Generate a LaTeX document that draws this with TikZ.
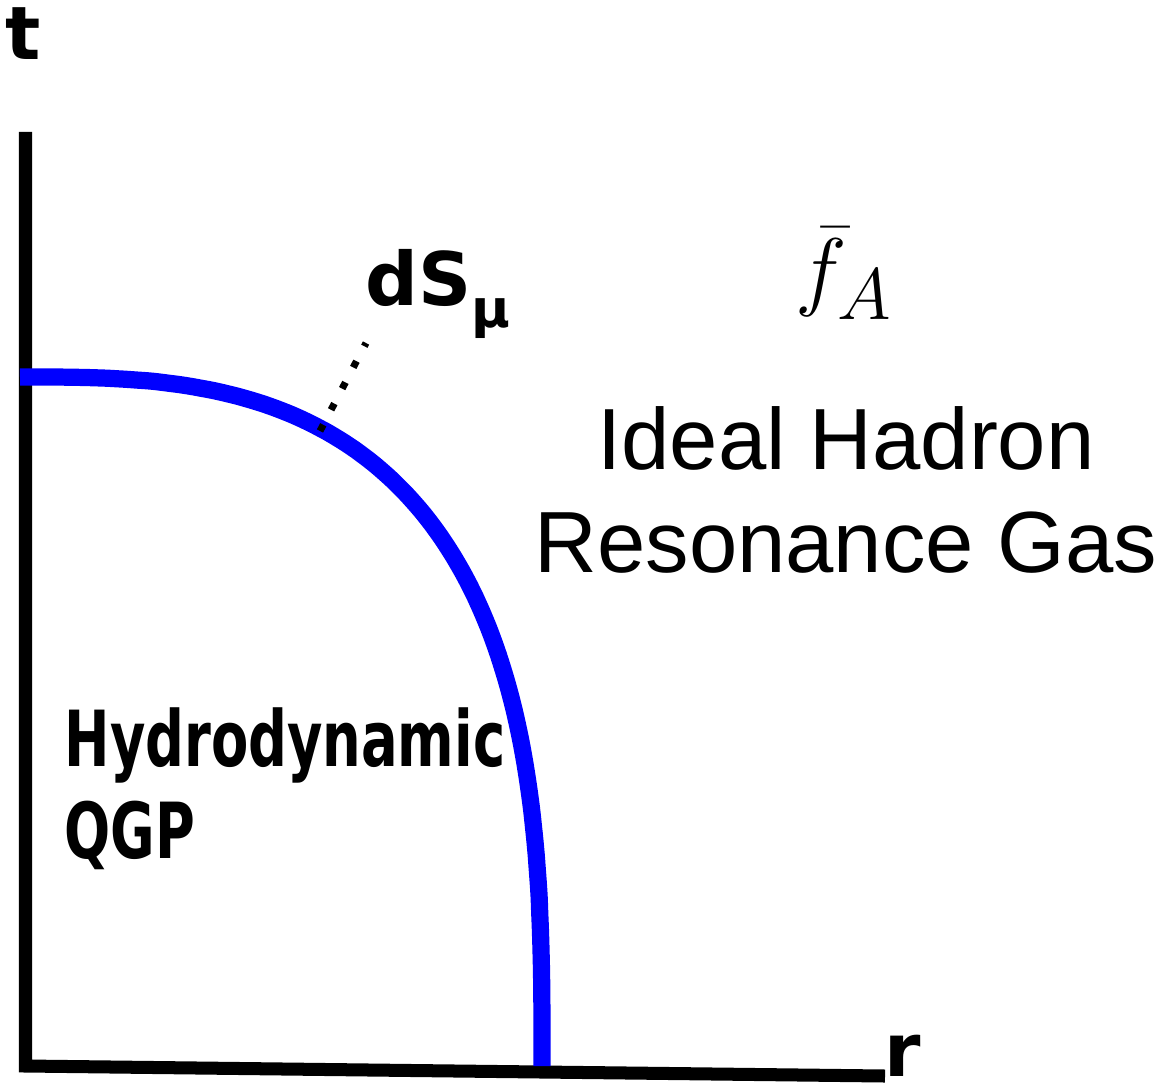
\documentclass[tikz,border=0pt]{standalone}
\usepackage{fontspec}
\usepackage{xcolor}
\newfontfamily\labelfont{DejaVu Sans}
\newfontfamily\qgpfont[FakeStretch=0.78]{DejaVu Sans Condensed}
\newfontfamily\gasfont{Liberation Sans}
\usetikzlibrary{positioning}

\begin{document}
\begin{tikzpicture}[x=0.01cm, y=-0.01cm]
\tikzstyle{axisline} = [draw, black, line width=3.7pt, line join=miter]
\tikzstyle{freezeout} = [draw, blue, line width=4.9pt]
\tikzstyle{normalvec} = [draw, black, line width=2pt, dash pattern=on 2pt off 4.8pt]
\tikzstyle{axislabel} = [inner sep=0pt, font=\labelfont\bfseries\fontsize{21}{21}\selectfont]
\useasboundingbox (0,0) rectangle (1158,1082);

% axes
\coordinate (tend) at (25.5,132);
\coordinate (origin) at (25.5,1066);
\coordinate (rend) at (885,1076);
\draw [axisline] (tend) -- (origin) -- (rend);

% freeze-out surface (superellipse)
\coordinate (surftop) at (20,377);
\coordinate (surfend) at (542,1066);
\draw [freezeout] (surftop) -- plot [domain=89.5:0.5, samples=120, smooth] ({20+522*pow(cos(\x),0.69)}, {1066-689*pow(sin(\x),0.69)}) -- (surfend);

% normal vector
\coordinate (surf) at (320,431);
\coordinate (normtip) at (366,343);
\draw [normalvec] (surf) -- (normtip);

\node (t) [axislabel, anchor=base] at (23,60) {t};
\node (r) [axislabel, anchor=base] at (903,1076) {r};
\node (dsmu) [axislabel, anchor=base west] at (365,305) {dS\raisebox{-6.5pt}{\fontsize{15}{15}\selectfont µ}};

\node (qgp) [inner sep=0pt, anchor=north west, align=left, font=\qgpfont\bfseries\fontsize{22}{26.2}\selectfont] at (64,707) {Hydrodynamic\\QGP};

\node (hrg) [inner sep=0pt, align=center, font=\gasfont\fontsize{24.7}{29.3}\selectfont] at (846,490) {Ideal Hadron\\Resonance Gas};
\node (fbar) [inner sep=0pt, above=0.86cm of hrg, xshift=-0.02cm, font=\fontsize{28}{28}\selectfont] {$\bar{f}_A$};
\end{tikzpicture}
\end{document}
